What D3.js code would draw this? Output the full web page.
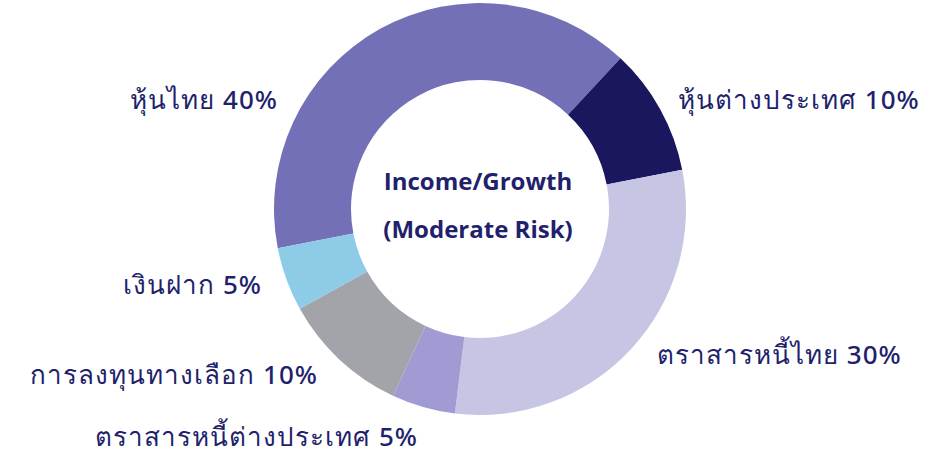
<!DOCTYPE html>
<html>
<head>
<meta charset="utf-8">
<script src="https://cdn.jsdelivr.net/npm/d3@7"></script>
<style>
  html, body { margin: 0; padding: 0; background: #fff; }
  svg { display: block; }
</style>
</head>
<body>
<div id="chart"></div>
<script>
// data
const categories = ["หุ้นไทย", "หุ้นต่างประเทศ", "ตราสารหนี้ไทย", "ตราสารหนี้ต่างประเทศ", "การลงทุนทางเลือก", "เงินฝาก"];
const values = [40, 10, 30, 5, 10, 5];
const centerLines = ["Income/Growth", "(Moderate Risk)"];

// styles / layout
const colors = ["#7470b8", "#1b175e", "#c6c5e4", "#a09bd3", "#a3a4a9", "#8ecbe6"];
const labelPos = [
  { x: 278, y: 100, anchor: "end" },
  { x: 678, y: 100, anchor: "start" },
  { x: 657, y: 355, anchor: "start" },
  { x: 418, y: 437, anchor: "end" },
  { x: 318, y: 375, anchor: "end" },
  { x: 262, y: 285, anchor: "end" }
];

const width = 952, height = 459;
const cx = 480, cy = 209;
const outerR = 206, innerR = 129;
const textColor = "#221f6c";

const svg = d3.select("#chart").append("svg")
    .attr("width", width)
    .attr("height", height);

const startA = -101 * Math.PI / 180;
const pie = d3.pie().sort(null).value(d => d).startAngle(startA).endAngle(startA + 2 * Math.PI);
const arc = d3.arc().innerRadius(innerR).outerRadius(outerR);

const g = svg.append("g").attr("transform", `translate(${cx},${cy})`);
g.selectAll("path")
    .data(pie(values))
    .join("path")
    .attr("d", arc)
    .attr("fill", (d, i) => colors[i]);

// slice labels
svg.selectAll("text.lbl")
    .data(categories)
    .join("text")
    .attr("class", "lbl")
    .attr("x", (d, i) => labelPos[i].x)
    .attr("y", (d, i) => labelPos[i].y)
    .attr("dy", "0.35em")
    .attr("text-anchor", (d, i) => labelPos[i].anchor)
    .attr("fill", textColor)
    .style("font-family", "'Noto Sans', sans-serif")
    .style("font-size", "26px")
    .style("font-weight", 500)
    .style("letter-spacing", "1px")
    .text((d, i) => `${d} ${values[i]}%`);

// centre text
svg.selectAll("text.ctr")
    .data(centerLines)
    .join("text")
    .attr("class", "ctr")
    .attr("x", cx - 2)
    .attr("y", (d, i) => 182 + i * 48)
    .attr("dy", "0.35em")
    .attr("text-anchor", "middle")
    .attr("fill", textColor)
    .style("font-family", "'Open Sans', sans-serif")
    .style("font-size", "24px")
    .style("font-weight", 700)
    .text(d => d);
</script>
</body>
</html>
